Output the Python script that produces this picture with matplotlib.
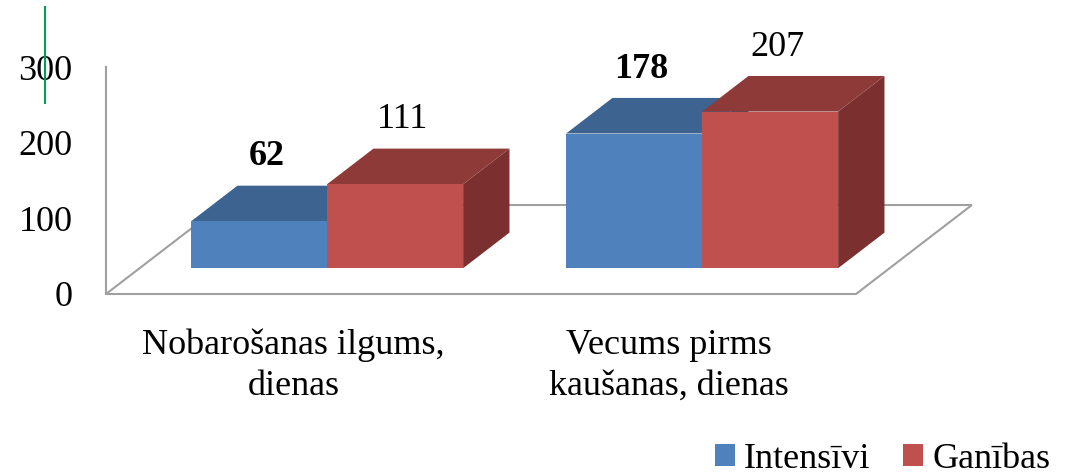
import matplotlib
matplotlib.use("Agg")
import matplotlib.pyplot as plt
from matplotlib.patches import Polygon, Patch
from matplotlib.lines import Line2D

# data
categories = ["Nobarošanas ilgums,\ndienas", "Vecums pirms\nkaušanas, dienas"]
series_names = ["Intensīvi", "Ganības"]
intensivi = [62, 178]
ganibas = [111, 207]
y_ticks = [0, 100, 200, 300]

plt.rcParams['font.family'] = ['Liberation Serif', 'DejaVu Serif']

front_cols = ["#4F81BD", "#C0504D"]
top_cols = ["#3D6390", "#8E3A39"]
side_cols = ["#34557C", "#7B302F"]
label_weight = ["bold", "normal"]

fig = plt.figure(figsize=(10.67, 4.76), dpi=100)
ax = fig.add_axes([106 / 1067, (476 - 294) / 476, 750 / 1067, 227 / 476])
ax.set_xlim(0, len(categories))
ax.set_ylim(0, 300)

# oblique depth of the floor, in data units
DX, DY = 0.309, 117.6
z0, z1 = 0.29, 0.69          # front/back of the bars along depth
bar_w = 0.3627
grey = "#A0A0A0"

def proj(x, y, z):
    return (x + z * DX, y + z * DY)

# floor and wall
n = len(categories)
floor = [proj(0, 0, 0), proj(n, 0, 0), proj(n, 0, 1), proj(0, 0, 1)]
ax.add_patch(Polygon(floor, closed=True, fill=False, edgecolor=grey, lw=1.5, clip_on=False))
ax.plot([0, 0], [0, 300], color=grey, lw=1.5, clip_on=False)

# bars
values = [intensivi, ganibas]
for i in range(n):
    left0 = i + (1 - 2 * bar_w) / 2
    for j, vals in enumerate(values):
        v = vals[i]
        xl = left0 + j * bar_w
        xr = xl + bar_w
        side = [proj(xr, 0, z0), proj(xr, 0, z1), proj(xr, v, z1), proj(xr, v, z0)]
        top = [proj(xl, v, z0), proj(xr, v, z0), proj(xr, v, z1), proj(xl, v, z1)]
        front = [proj(xl, 0, z0), proj(xr, 0, z0), proj(xr, v, z0), proj(xl, v, z0)]
        ax.add_patch(Polygon(side, closed=True, facecolor=side_cols[j], edgecolor='none', clip_on=False))
        ax.add_patch(Polygon(top, closed=True, facecolor=top_cols[j], edgecolor='none', clip_on=False))
        ax.add_patch(Polygon(front, closed=True, facecolor=front_cols[j], edgecolor='none', clip_on=False))
        lx, ly = proj((xl + xr) / 2 + 0.02, v + 85, z0)
        ax.text(lx, ly, str(v), ha='center', va='center', fontsize=26,
                fontweight=label_weight[j], clip_on=False)

# category labels
for i, cat in enumerate(categories):
    ax.text(i + 0.5, -72 / 0.7567, cat, ha='center', va='center', fontsize=26,
            linespacing=1.3, clip_on=False)

ax.set_xticks([])
ax.set_yticks(y_ticks)
ax.set_yticklabels([str(t) for t in y_ticks], fontsize=26)
ax.tick_params(axis='y', length=0, pad=24)
for s in ax.spines.values():
    s.set_visible(False)
ax.patch.set_visible(False)

handles = [Patch(facecolor=c, edgecolor='none') for c in front_cols]
fig.legend(handles, series_names, loc='center right', bbox_to_anchor=(1050 / 1067, 17 / 476),
           ncol=2, frameon=False, fontsize=26, handlelength=0.55, handleheight=0.55,
           handletextpad=0.25, columnspacing=0.9, borderpad=0, borderaxespad=0)

# stray green marker line
fig.add_artist(Line2D([45 / 1067, 45 / 1067], [1 - 7 / 476, 1 - 103 / 476], color="#00A050", lw=1.5))

fig.savefig("out.png", dpi=100)
